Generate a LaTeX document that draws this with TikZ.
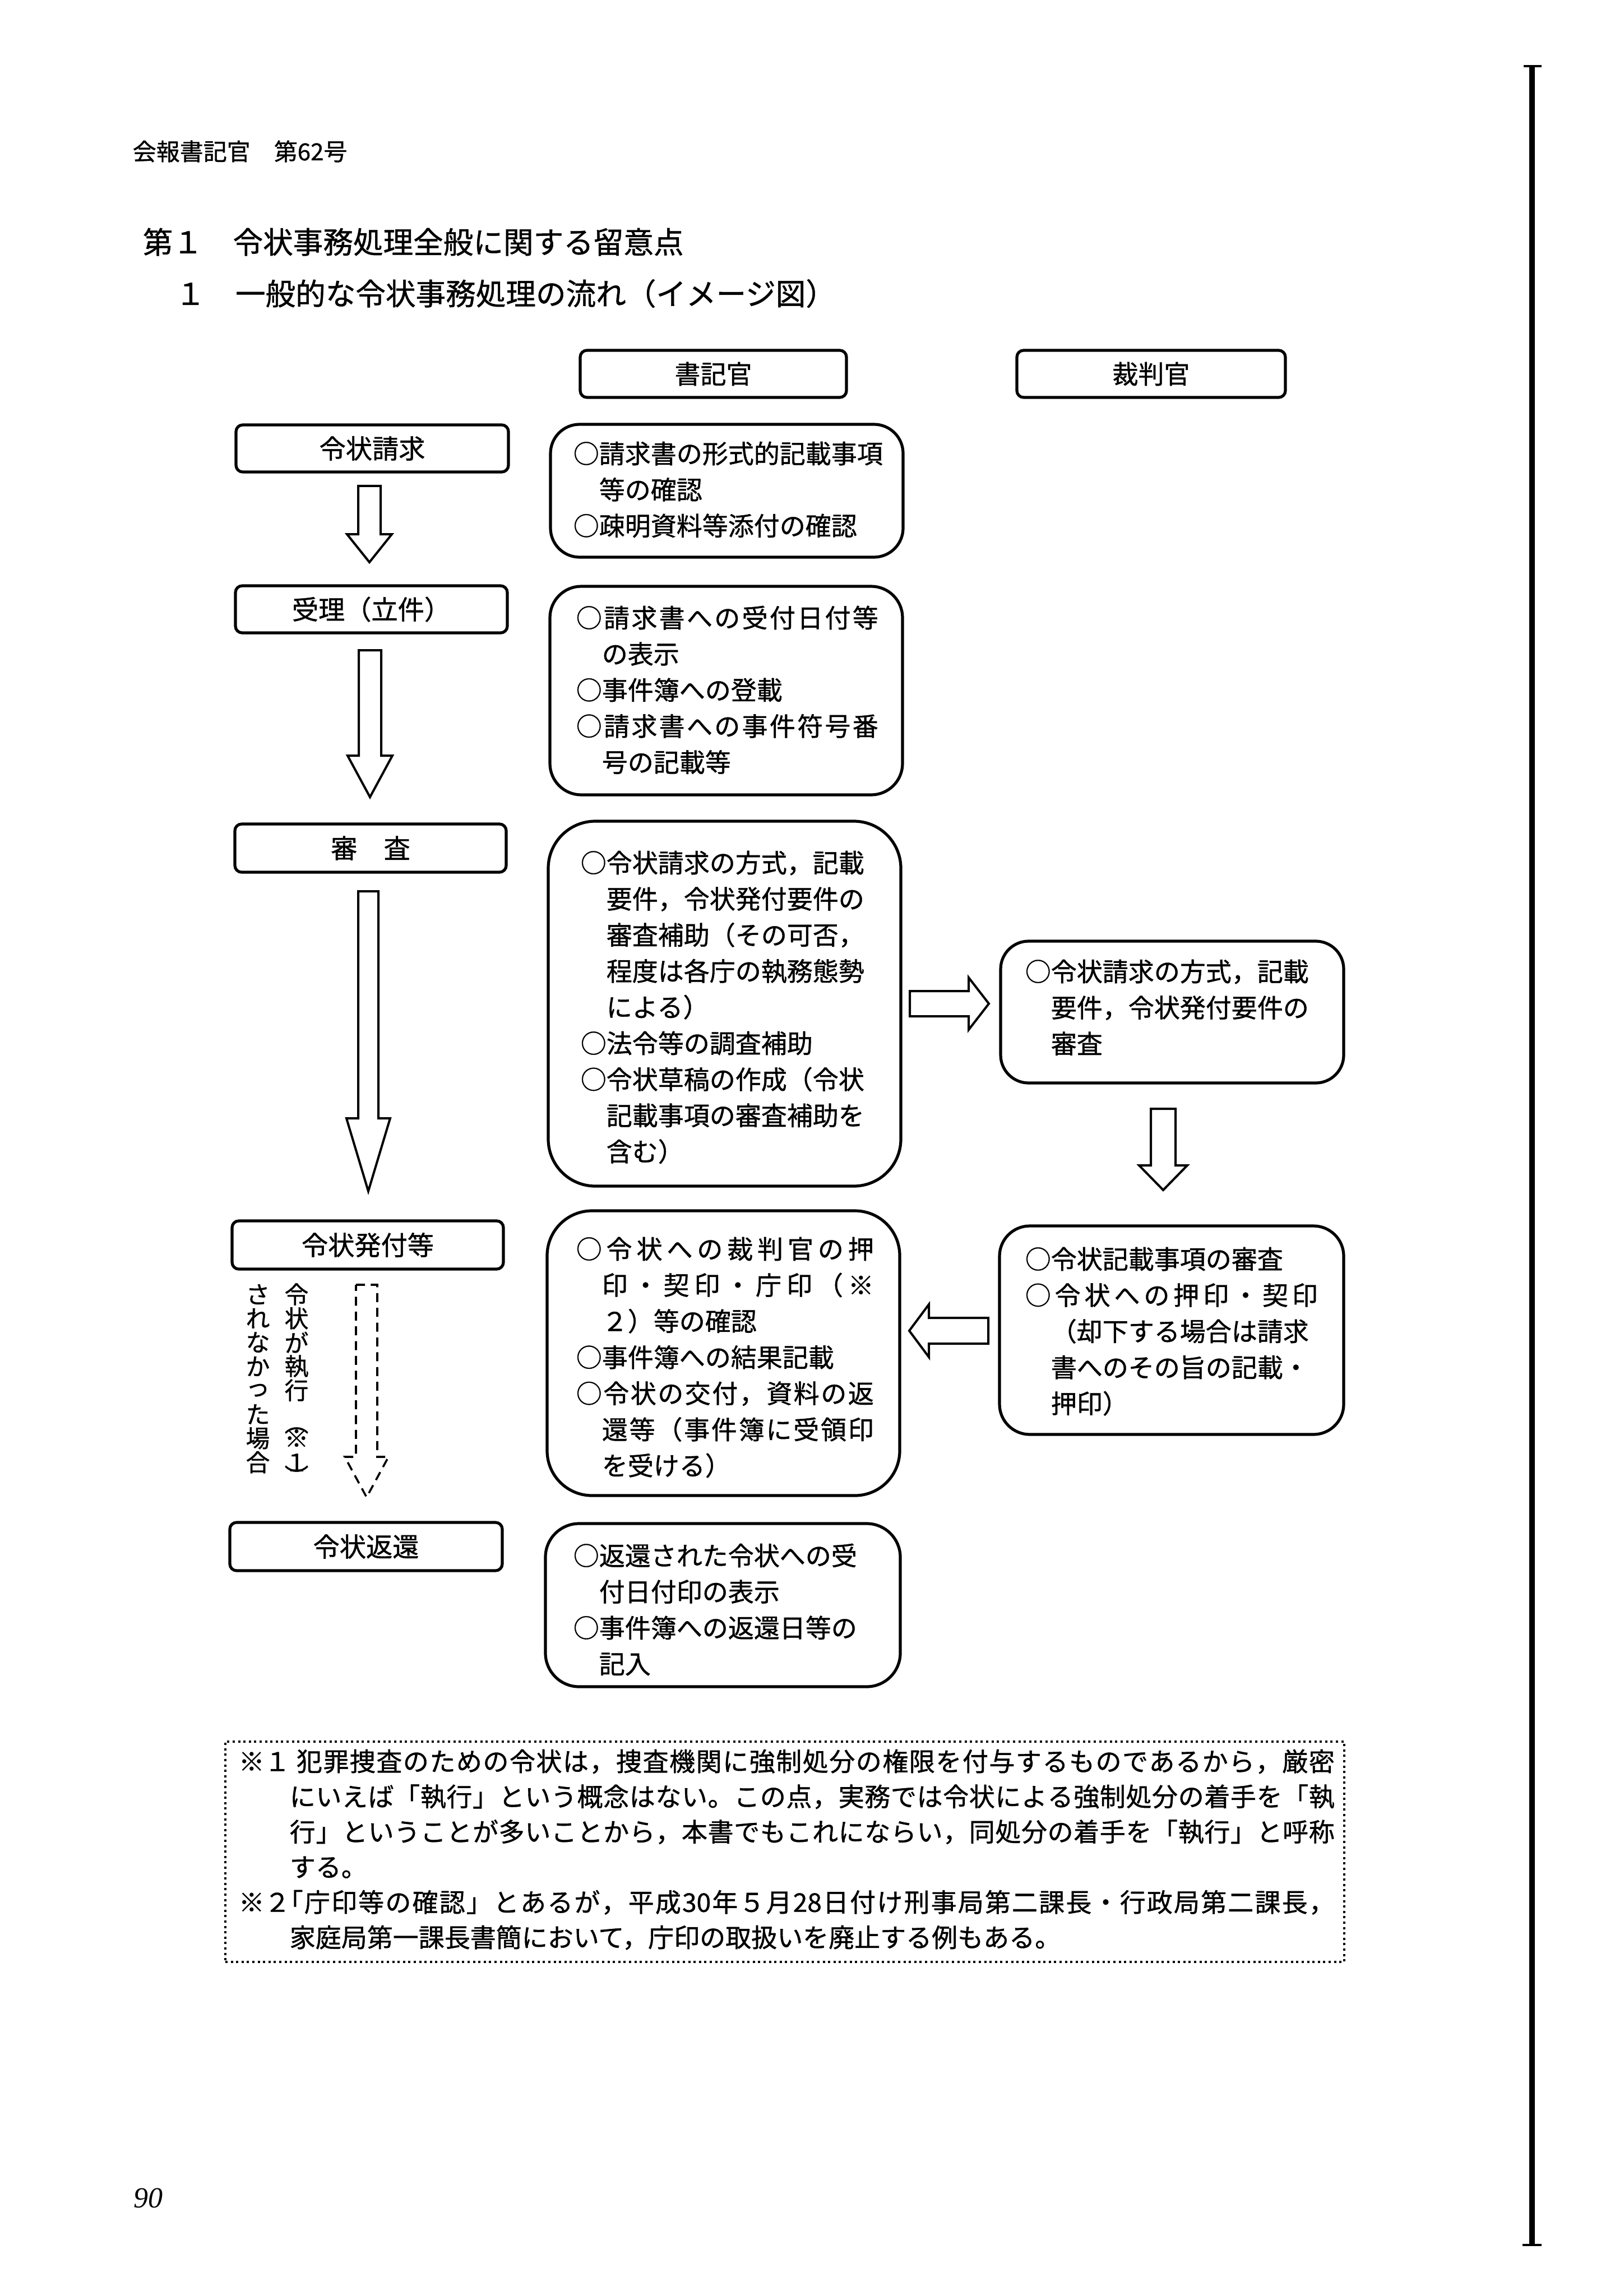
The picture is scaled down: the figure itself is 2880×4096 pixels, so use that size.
\documentclass[tikz,border=0pt]{standalone}
\usepackage{fontspec}
\setmainfont{Noto Sans CJK JP}[FakeBold=0.9]
\newfontfamily\pnumfont{Liberation Serif}
\def\sprstop{\sprstop}
\def\sprd#1{#1\sprdnext}
\def\sprdnext#1{\def\sprtmp{#1}\ifx\sprtmp\sprstop\else\hfil#1\expandafter\sprdnext\fi}
\newcommand\spr[2]{\makebox[#1][s]{\sprd#2\sprstop}}
\newcommand\putlines[5]{\foreach \bxl [count=\bxi] in {#5} {\node[txt, anchor=base west] (#1-\bxi) at (#2, {#3+(\bxi-1)*#4}) {\bxl};}}
\newcommand\dnarrow[7]{\draw[#7] (#1-#5,#2) -- (#1+#5,#2) -- (#1+#5,#3) -- (#1+#6,#3) -- (#1,#4) -- (#1-#6,#3) -- (#1-#5,#3) -- cycle;}
\newcommand\harrow[7]{\draw[#7] (#1,#4-#5) -- (#2,#4-#5) -- (#2,#4-#6) -- (#3,#4) -- (#2,#4+#6) -- (#2,#4+#5) -- (#1,#4+#5) -- cycle;}
\tikzset{
  sz/.style 2 args={minimum width=#1*0.25pt, minimum height=#2*0.25pt},
  lbox/.style={draw, line width=1.3pt, rounded corners=3pt, inner sep=0pt, font=\fontsize{11.8pt}{14pt}\selectfont},
  cbox/.style={draw, line width=1.3pt, rounded corners=#1, inner sep=0pt},
  txt/.style={inner sep=0pt, font=\fontsize{11.5pt}{14pt}\selectfont},
  vtxt/.style={inner sep=0pt, font=\fontsize{10.7pt}{12pt}\selectfont},
  barrow/.style={draw, line width=1pt, line join=miter},
  darrow/.style={draw, line width=0.9pt, dash pattern=on 4pt off 2.6pt},
}
\begin{document}
\begin{tikzpicture}[x=0.25pt, y=-0.25pt]
\fill[white] (0,0) rectangle (2880,4096);
\useasboundingbox (0,0) rectangle (2880,4096);

% page header and titles
\node[inner sep=0pt, anchor=base west, font=\fontsize{10.5pt}{12pt}\selectfont] (hdr) at (236,286) {会報書記官　第62号};
\node[inner sep=0pt, anchor=base west, font=\fontsize{13.4pt}{16pt}\selectfont] (ttl) at (254,452) {第１　令状事務処理全般に関する留意点};
\node[inner sep=0pt, anchor=base west, font=\fontsize{13.4pt}{16pt}\selectfont] (sub) at (312,544) {１　一般的な令状事務処理の流れ（イメージ図）};

% column headers
\node[lbox, sz={475}{84}, font=\fontsize{11.5pt}{14pt}\selectfont] (hd1) at (1272.5,667) {書記官};
\node[lbox, sz={479}{84}, font=\fontsize{11.5pt}{14pt}\selectfont] (hd2) at (2053.5,667) {裁判官};

% left step boxes
\node[lbox, sz={486}{84}] (L1) at (664,800) {令状請求};
\node[lbox, sz={485}{84}] (L2) at (662.5,1087) {受理（立件）};
\node[lbox, sz={484}{86}] (L3) at (661,1513) {審　査};
\node[lbox, sz={484}{86}] (L4) at (656,2221) {令状発付等};
\node[lbox, sz={486}{86}] (L5) at (653,2759) {令状返還};

% middle boxes
\node[cbox=13pt, sz={629}{237}] (B1) at (1296.5,875.5) {};
\node[cbox=14pt, sz={629}{372}] (B2) at (1295.5,1232) {};
\node[cbox=21pt, sz={629}{651}] (B3) at (1292.5,1790.5) {};
\node[cbox=20pt, sz={629}{508}] (B4) at (1290.5,2414) {};
\node[cbox=15pt, sz={633}{291}] (B5) at (1289.5,2863.5) {};
% right boxes
\node[cbox=12.5pt, sz={612}{253}] (R1) at (2091,1805.5) {};
\node[cbox=13.5pt, sz={614}{372}] (R2) at (2090,2373) {};

% box texts
\putlines{b1}{1022}{826.5}{64.4}{○請求書の形式的記載事項, \hspace*{1em}等の確認, ○疎明資料等添付の確認}
\putlines{b2}{1027}{1119.5}{64.4}{\spr{134.75pt}{○請求書への受付日付等}, \hspace*{1em}の表示, ○事件簿への登載, \spr{134.75pt}{○請求書への事件符号番}, \hspace*{1em}号の記載等}
\putlines{b3}{1035}{1556.5}{64.4}{○令状請求の方式，記載, \hspace*{1em}要件，令状発付要件の, \hspace*{1em}審査補助（その可否，, \hspace*{1em}程度は各庁の執務態勢, \hspace*{1em}による）, ○法令等の調査補助, ○令状草稿の作成（令状, \hspace*{1em}記載事項の審査補助を, \hspace*{1em}含む）}
\putlines{b4}{1027}{2245.5}{64.4}{\spr{132.75pt}{○令状への裁判官の押}, \hspace*{1em}\spr{121.25pt}{印・契印・庁印（※}, \hspace*{1em}２）等の確認, ○事件簿への結果記載, \spr{132.75pt}{○令状の交付，資料の返}, \hspace*{1em}\spr{121.25pt}{還等（事件簿に受領印}, \hspace*{1em}を受ける）}
\putlines{b5}{1022}{2792.5}{64.4}{○返還された令状への受, \hspace*{1em}付日付印の表示, ○事件簿への返還日等の, \hspace*{1em}記入}
\putlines{r1}{1828}{1750.5}{64.4}{○令状請求の方式，記載, \hspace*{1em}要件，令状発付要件の, \hspace*{1em}審査}
\putlines{r2}{1828}{2263.5}{64.4}{○令状記載事項の審査, \spr{130.5pt}{○令状への押印・契印}, \hspace*{1em}（却下する場合は請求, \hspace*{1em}書へのその旨の記載・, \hspace*{1em}押印）}

% block arrows
\dnarrow{659}{867}{953}{1003}{20}{40}{barrow}
\dnarrow{660}{1160}{1348}{1422}{20}{40}{barrow}
\dnarrow{657}{1590}{1995}{2125}{18}{39}{barrow}
\dnarrow{654}{2292}{2599}{2671}{19}{39}{darrow}
\dnarrow{2075}{1978}{2079}{2123}{22}{43}{barrow}
\harrow{1623}{1728}{1764}{1790.5}{22.5}{46.5}{barrow}
\harrow{1763}{1657}{1622}{2374}{23}{47}{barrow}

% vertical note beside the dashed arrow
\foreach \c [count=\k] in {令,状,が,執,行} \node[vtxt] (va\k) at (529,{2309+(\k-1)*42.8}) {\c};
\node[vtxt, rotate=-90] (va6) at (529,2538) {（};
\node[vtxt] (va7) at (529,2566) {※};
\node[vtxt] (va8) at (529,2609) {１};
\node[vtxt, rotate=-90] (va9) at (529,2634) {）};
\foreach \c [count=\k] in {さ,れ,な,か,っ,た,場,合} \node[vtxt] (vb\k) at (460,{2309+(\k-1)*42.8}) {\c};

% footnote box
\node[draw, line width=0.8pt, dash pattern=on 1pt off 1.4pt, sz={1996}{393}, inner sep=0pt] (fn) at (1400,3303.5) {};
\node[txt, anchor=base west] (f1a) at (425,3159.5) {※１};
\node[txt, anchor=base west] (f1) at (528,3159.5) {\spr{463pt}{犯罪捜査のための令状は，捜査機関に強制処分の権限を付与するものであるから，厳密}};
\node[txt, anchor=base west] (f2) at (516,3222.3) {\spr{466pt}{にいえば「執行」という概念はない。この点，実務では令状による強制処分の着手を「執}};
\node[txt, anchor=base west] (f3) at (516,3285.1) {\spr{466pt}{行」ということが多いことから，本書でもこれにならい，同処分の着手を「執行」と呼称}};
\node[txt, anchor=base west] (f4) at (516,3347.9) {する。};
\node[txt, anchor=base west] (f5a) at (425,3410.7) {※２};
\node[txt, anchor=base west] (f5) at (494,3410.7) {\spr{471.5pt}{「庁印等の確認」とあるが，平成{30}年５月{28}日付け刑事局第二課長・行政局第二課長，}};
\node[txt, anchor=base west] (f6) at (516,3473.5) {家庭局第一課長書簡において，庁印の取扱いを廃止する例もある。};

% page number
\node[inner sep=0pt, anchor=base west, font=\pnumfont\itshape\fontsize{13pt}{15pt}\selectfont] (pg) at (238,3938) {90};

% binding line at right edge
\draw[line width=2.3pt] (2733,120) -- (2733,4003);
\draw[line width=0.8pt] (2718,118) -- (2750,118);
\draw[line width=0.8pt] (2716,4005) -- (2750,4005);
\end{tikzpicture}
\end{document}
